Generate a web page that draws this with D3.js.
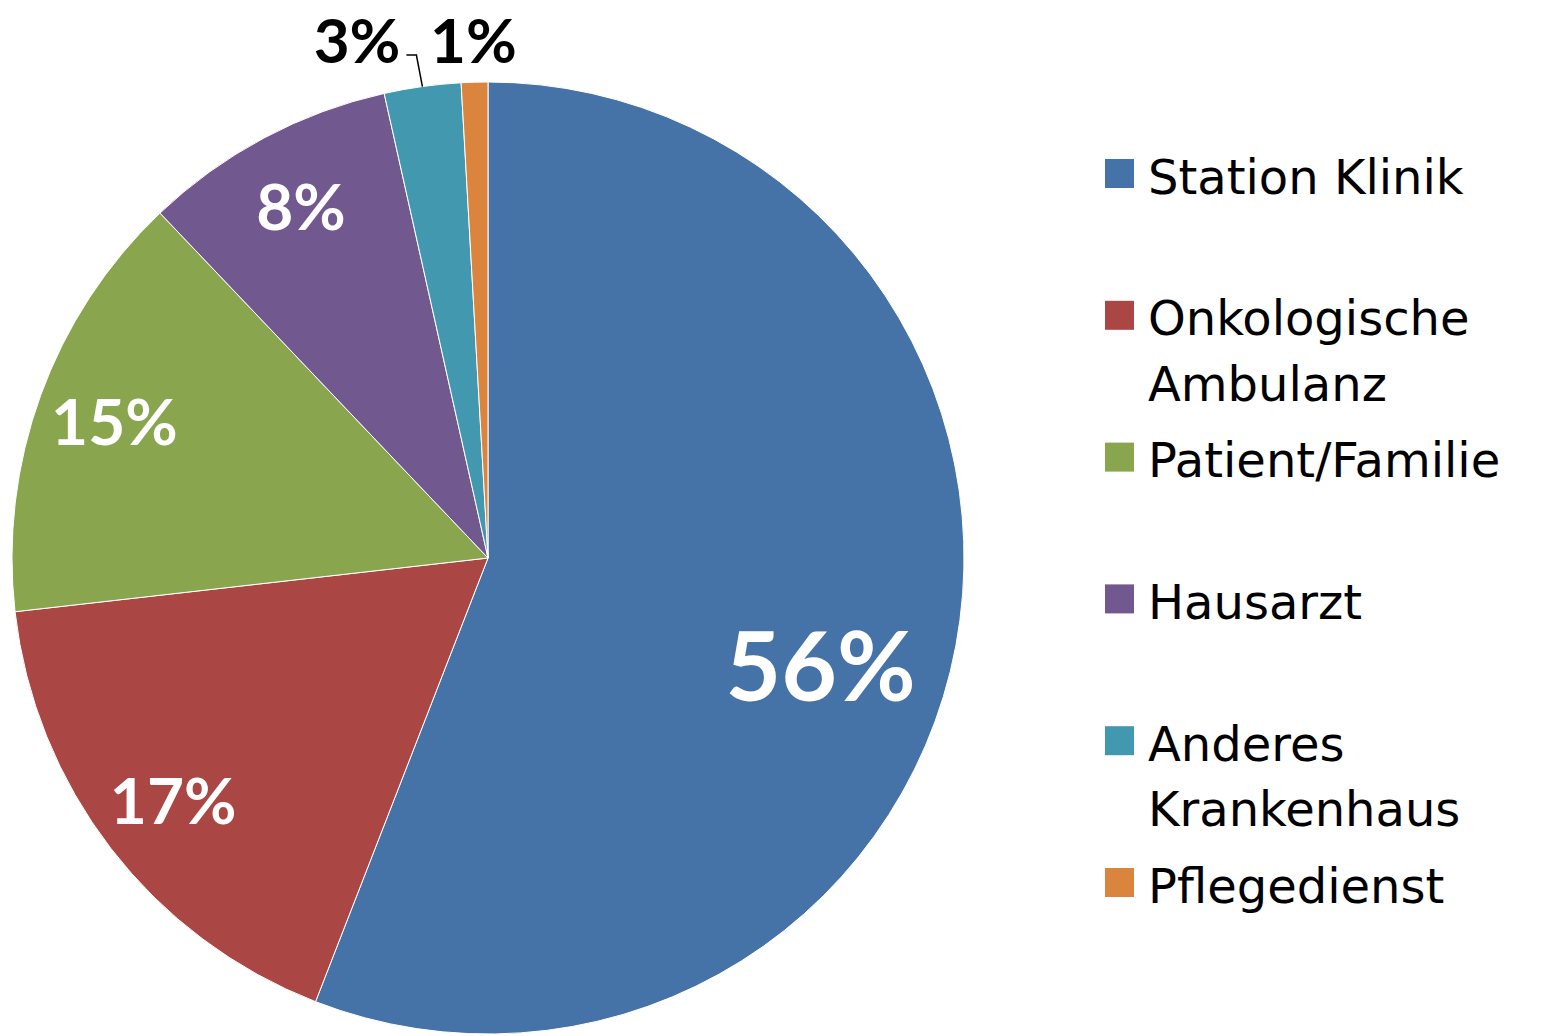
<!DOCTYPE html>
<html>
<head>
<meta charset="utf-8">
<script src="https://cdn.jsdelivr.net/npm/d3@7"></script>
<style>
  body { margin: 0; background: #fff; }
  svg { display: block; }
</style>
</head>
<body>
<svg></svg>
<script>
const categories = ['Station Klinik', 'Onkologische Ambulanz', 'Patient/Familie', 'Hausarzt', 'Anderes Krankenhaus', 'Pflegedienst'];
// shares
const values = [55.9, 17.3, 14.7, 8.6, 2.6, 0.9];
// labels as printed on the chart
const labels = ['56%', '17%', '15%', '8%', '3%', '1%'];
const colors = ['#4572A7', '#AA4643', '#89A54E', '#71588F', '#4198AF', '#DB843D'];

const svg = d3.select('svg')
	.attr('width', 1549)
	.attr('height', 1036);

const cx = 488,
	cy = 558,
	radius = 476;

const data = categories.map((c, i) => ({ name: c, value: values[i], label: labels[i], color: colors[i] }));

const pie = d3.pie()
	.sort(null)
	.value(d => d.value);

const arcs = pie(data);

const arc = d3.arc()
	.innerRadius(0)
	.outerRadius(radius);

const g = svg.append('g')
	.attr('transform', `translate(${cx}, ${cy})`);

g.selectAll('path')
	.data(arcs)
	.enter().append('path')
	.attr('d', arc)
	.attr('fill', d => d.data.color)
	.attr('stroke', '#fff')
	.attr('stroke-width', 1);

// labels inside for big slices, outside for small ones
const polar = (a, r) => [r * Math.sin(a), -r * Math.cos(a)];
const mid = d => (d.startAngle + d.endAngle) / 2;

const inside = arcs.filter(d => d.data.value >= 5);
const outside = arcs.filter(d => d.data.value < 5);

g.selectAll('.inlabel')
	.data(inside)
	.enter().append('text')
	.attr('class', 'inlabel')
	.attr('transform', d => {
		// largest slice label sits a bit further round, like the original
		const big = d.data.value > 50;
		const p = polar(mid(d) + (big ? 0.13 : 0), big ? 0.735 * radius : 0.835 * radius);
		return `translate(${p[0]}, ${p[1]})`;
	})
	.attr('text-anchor', 'middle')
	.attr('dy', '0.36em')
	.attr('fill', '#fff')
	.attr('font-family', 'Lato, sans-serif')
	.attr('font-weight', 700)
	.attr('font-size', d => d.data.value > 50 ? 96 : 64)
	.text(d => d.data.label);

const outY = -radius - 41;
const last = outside[outside.length - 1];

outside.forEach(d => {
	const t = g.append('text')
		.attr('fill', '#000')
		.attr('font-family', 'Lato, sans-serif')
		.attr('font-weight', 700)
		.attr('font-size', 62)
		.attr('dy', '0.36em')
		.text(d.data.label);
	if (d === last) {
		const p = polar(mid(d), radius + 44);
		t.attr('x', p[0]).attr('y', outY).attr('text-anchor', 'middle');
	} else {
		// pushed left with a leader line
		const p0 = polar(mid(d), radius);
		const p1 = [p0[0] - 6, outY + 14];
		const p2 = [p1[0] - 10, p1[1]];
		g.append('polyline')
			.attr('points', [p0, p1, p2].map(p => p.join(',')).join(' '))
			.attr('fill', 'none')
			.attr('stroke', '#000')
			.attr('stroke-width', 1.5);
		t.attr('x', p2[0] - 6).attr('y', outY).attr('text-anchor', 'end');
	}
});

// legend
const legend = svg.append('g')
	.attr('transform', 'translate(1105, 173.5)');

const rowStep = 141.8,
	lineStep = 65.5,
	box = 29,
	maxW = 395;

const item = legend.selectAll('g')
	.data(data)
	.enter().append('g')
	.attr('transform', (d, i) => `translate(0, ${i * rowStep})`);

item.append('rect')
	.attr('x', 0)
	.attr('y', -box / 2)
	.attr('width', box)
	.attr('height', box)
	.attr('fill', d => d.color);

item.each(function(d) {
	const text = d3.select(this).append('text')
		.attr('x', 43)
		.attr('y', 20)
		.attr('font-family', '"DejaVu Sans", sans-serif')
		.attr('font-size', 48)
		.attr('fill', '#000');
	const words = d.name.split(' ');
	let line = [],
		tspan = text.append('tspan').attr('x', 43).attr('dy', 0);
	words.forEach(w => {
		line.push(w);
		tspan.text(line.join(' '));
		if (tspan.node().getComputedTextLength() > maxW && line.length > 1) {
			line.pop();
			tspan.text(line.join(' '));
			line = [w];
			tspan = text.append('tspan').attr('x', 43).attr('dy', lineStep).text(w);
		}
	});
});
</script>
</body>
</html>
